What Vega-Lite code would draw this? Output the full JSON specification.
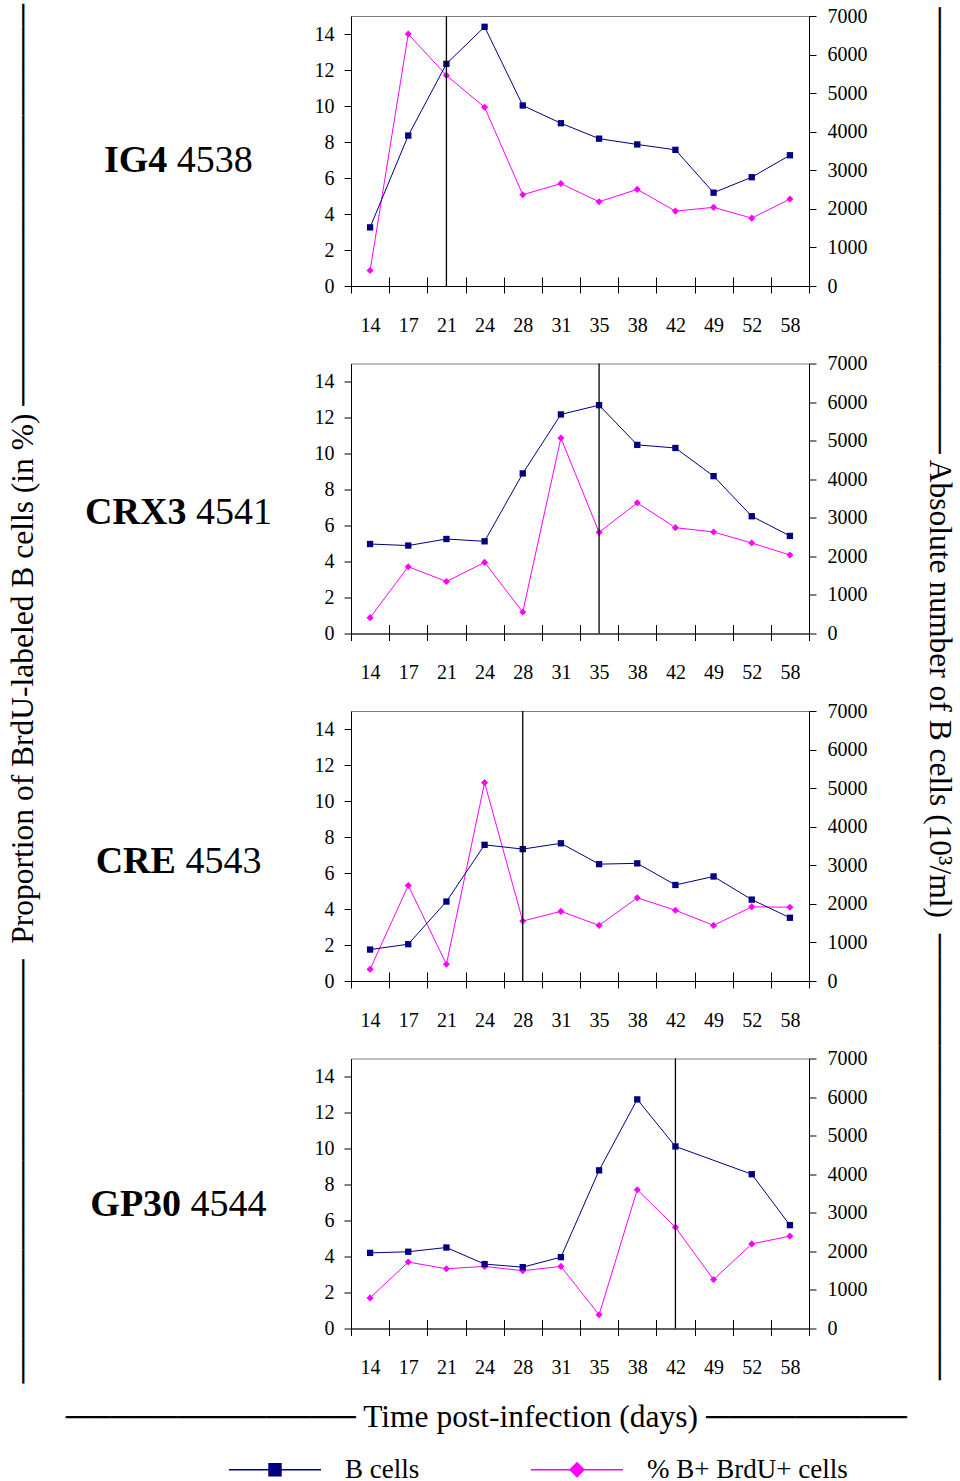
{
  "$schema": "https://vega.github.io/schema/vega-lite/v6.json",
  "padding": {"left": 7, "top": 3, "right": 0, "bottom": 0},
  "datasets": {
    "obs": [
      {"animal":"IG4","day":"14","series":"% B+ BrdU+ cells","value":0.86},
      {"animal":"IG4","day":"17","series":"% B+ BrdU+ cells","value":14.0},
      {"animal":"IG4","day":"21","series":"% B+ BrdU+ cells","value":11.7},
      {"animal":"IG4","day":"24","series":"% B+ BrdU+ cells","value":9.93},
      {"animal":"IG4","day":"28","series":"% B+ BrdU+ cells","value":5.07},
      {"animal":"IG4","day":"31","series":"% B+ BrdU+ cells","value":5.69},
      {"animal":"IG4","day":"35","series":"% B+ BrdU+ cells","value":4.68},
      {"animal":"IG4","day":"38","series":"% B+ BrdU+ cells","value":5.37},
      {"animal":"IG4","day":"42","series":"% B+ BrdU+ cells","value":4.16},
      {"animal":"IG4","day":"49","series":"% B+ BrdU+ cells","value":4.37},
      {"animal":"IG4","day":"52","series":"% B+ BrdU+ cells","value":3.77},
      {"animal":"IG4","day":"58","series":"% B+ BrdU+ cells","value":4.83},
      {"animal":"IG4","day":"14","series":"B cells","value":1520},
      {"animal":"IG4","day":"17","series":"B cells","value":3900},
      {"animal":"IG4","day":"21","series":"B cells","value":5760},
      {"animal":"IG4","day":"24","series":"B cells","value":6720},
      {"animal":"IG4","day":"28","series":"B cells","value":4680},
      {"animal":"IG4","day":"31","series":"B cells","value":4220},
      {"animal":"IG4","day":"35","series":"B cells","value":3820},
      {"animal":"IG4","day":"38","series":"B cells","value":3670},
      {"animal":"IG4","day":"42","series":"B cells","value":3530},
      {"animal":"IG4","day":"49","series":"B cells","value":2420},
      {"animal":"IG4","day":"52","series":"B cells","value":2820},
      {"animal":"IG4","day":"58","series":"B cells","value":3390},
      {"animal":"CRX3","day":"14","series":"% B+ BrdU+ cells","value":0.88},
      {"animal":"CRX3","day":"17","series":"% B+ BrdU+ cells","value":3.71},
      {"animal":"CRX3","day":"21","series":"% B+ BrdU+ cells","value":2.89},
      {"animal":"CRX3","day":"24","series":"% B+ BrdU+ cells","value":3.95},
      {"animal":"CRX3","day":"28","series":"% B+ BrdU+ cells","value":1.19},
      {"animal":"CRX3","day":"31","series":"% B+ BrdU+ cells","value":10.86},
      {"animal":"CRX3","day":"35","series":"% B+ BrdU+ cells","value":5.62},
      {"animal":"CRX3","day":"38","series":"% B+ BrdU+ cells","value":7.26},
      {"animal":"CRX3","day":"42","series":"% B+ BrdU+ cells","value":5.88},
      {"animal":"CRX3","day":"49","series":"% B+ BrdU+ cells","value":5.64},
      {"animal":"CRX3","day":"52","series":"% B+ BrdU+ cells","value":5.03},
      {"animal":"CRX3","day":"58","series":"% B+ BrdU+ cells","value":4.36},
      {"animal":"CRX3","day":"14","series":"B cells","value":2320},
      {"animal":"CRX3","day":"17","series":"B cells","value":2280},
      {"animal":"CRX3","day":"21","series":"B cells","value":2450},
      {"animal":"CRX3","day":"24","series":"B cells","value":2390},
      {"animal":"CRX3","day":"28","series":"B cells","value":4150},
      {"animal":"CRX3","day":"31","series":"B cells","value":5680},
      {"animal":"CRX3","day":"35","series":"B cells","value":5920},
      {"animal":"CRX3","day":"38","series":"B cells","value":4890},
      {"animal":"CRX3","day":"42","series":"B cells","value":4810},
      {"animal":"CRX3","day":"49","series":"B cells","value":4080},
      {"animal":"CRX3","day":"52","series":"B cells","value":3040},
      {"animal":"CRX3","day":"58","series":"B cells","value":2530},
      {"animal":"CRE","day":"14","series":"% B+ BrdU+ cells","value":0.65},
      {"animal":"CRE","day":"17","series":"% B+ BrdU+ cells","value":5.31},
      {"animal":"CRE","day":"21","series":"% B+ BrdU+ cells","value":0.93},
      {"animal":"CRE","day":"24","series":"% B+ BrdU+ cells","value":11.02},
      {"animal":"CRE","day":"28","series":"% B+ BrdU+ cells","value":3.33},
      {"animal":"CRE","day":"31","series":"% B+ BrdU+ cells","value":3.87},
      {"animal":"CRE","day":"35","series":"% B+ BrdU+ cells","value":3.09},
      {"animal":"CRE","day":"38","series":"% B+ BrdU+ cells","value":4.62},
      {"animal":"CRE","day":"42","series":"% B+ BrdU+ cells","value":3.93},
      {"animal":"CRE","day":"49","series":"% B+ BrdU+ cells","value":3.09},
      {"animal":"CRE","day":"52","series":"% B+ BrdU+ cells","value":4.12},
      {"animal":"CRE","day":"58","series":"% B+ BrdU+ cells","value":4.10},
      {"animal":"CRE","day":"14","series":"B cells","value":815},
      {"animal":"CRE","day":"17","series":"B cells","value":954},
      {"animal":"CRE","day":"21","series":"B cells","value":2060},
      {"animal":"CRE","day":"24","series":"B cells","value":3530},
      {"animal":"CRE","day":"28","series":"B cells","value":3420},
      {"animal":"CRE","day":"31","series":"B cells","value":3570},
      {"animal":"CRE","day":"35","series":"B cells","value":3030},
      {"animal":"CRE","day":"38","series":"B cells","value":3050},
      {"animal":"CRE","day":"42","series":"B cells","value":2490},
      {"animal":"CRE","day":"49","series":"B cells","value":2710},
      {"animal":"CRE","day":"52","series":"B cells","value":2110},
      {"animal":"CRE","day":"58","series":"B cells","value":1640},
      {"animal":"GP30","day":"14","series":"% B+ BrdU+ cells","value":1.70},
      {"animal":"GP30","day":"17","series":"% B+ BrdU+ cells","value":3.69},
      {"animal":"GP30","day":"21","series":"% B+ BrdU+ cells","value":3.32},
      {"animal":"GP30","day":"24","series":"% B+ BrdU+ cells","value":3.45},
      {"animal":"GP30","day":"28","series":"% B+ BrdU+ cells","value":3.21},
      {"animal":"GP30","day":"31","series":"% B+ BrdU+ cells","value":3.45},
      {"animal":"GP30","day":"35","series":"% B+ BrdU+ cells","value":0.76},
      {"animal":"GP30","day":"38","series":"% B+ BrdU+ cells","value":7.71},
      {"animal":"GP30","day":"42","series":"% B+ BrdU+ cells","value":5.62},
      {"animal":"GP30","day":"49","series":"% B+ BrdU+ cells","value":2.72},
      {"animal":"GP30","day":"52","series":"% B+ BrdU+ cells","value":4.70},
      {"animal":"GP30","day":"58","series":"% B+ BrdU+ cells","value":5.13},
      {"animal":"GP30","day":"14","series":"B cells","value":1960},
      {"animal":"GP30","day":"17","series":"B cells","value":1990},
      {"animal":"GP30","day":"21","series":"B cells","value":2100},
      {"animal":"GP30","day":"24","series":"B cells","value":1670},
      {"animal":"GP30","day":"28","series":"B cells","value":1590},
      {"animal":"GP30","day":"31","series":"B cells","value":1850},
      {"animal":"GP30","day":"35","series":"B cells","value":4100},
      {"animal":"GP30","day":"38","series":"B cells","value":5940},
      {"animal":"GP30","day":"42","series":"B cells","value":4720},
      {"animal":"GP30","day":"52","series":"B cells","value":4000},
      {"animal":"GP30","day":"58","series":"B cells","value":2680}
    ],
    "vlines": [
      {"animal":"IG4","day":"21"},
      {"animal":"CRX3","day":"35"},
      {"animal":"CRE","day":"28"},
      {"animal":"GP30","day":"42"}
    ]
  },
  "vconcat": [
    {
      "title": {"text": "───────────── Time post-infection (days) ─────────", "orient": "bottom", "offset": 18, "anchor": "middle", "dx": 5},
      "vconcat": [
        {
          "title": {"text": "──────────────────── Absolute number of B cells (10³/ml)\u00a0 ────────────────────", "orient": "right", "offset": 56, "anchor": "middle"},
          "hconcat": [
            {
              "title": {"text": "───────────────────\u00a0 Proportion of BrdU-labeled B cells (in %) ──────────────────", "orient": "left", "offset": 45, "anchor": "middle", "dx": -2},
              "spacing": 16.5,
              "vconcat": [
                {
                  "width": 458, "height": 270,
                  "data": {"name": "obs"},
                  "layer": [
                    {
                      "transform": [{"filter": "datum.animal === 'IG4' && datum.series === '% B+ BrdU+ cells'"}],
                      "encoding": {
                        "x": {"field": "day", "type": "ordinal", "sort": null, "scale": {"type": "band", "paddingInner": 0, "paddingOuter": 0, "domain": ["14","17","21","24","28","31","35","38","42","49","52","58"]}, "axis": {"orient": "bottom", "tickBand": "extent", "tickSize": 7, "labelPadding": 22, "labelAngle": 0, "title": null}},
                        "y": {"field": "value", "type": "quantitative", "scale": {"domain": [0, 15], "nice": false}, "axis": {"orient": "left", "values": [0,2,4,6,8,10,12,14], "labelPadding": 10, "title": "IG4", "titleAngle": 0, "titleAlign": "right", "titleBaseline": "alphabetic", "titleX": -184.25, "titleY": 155, "titleFontWeight": "bold"}},
                        "color": {"field": "series", "type": "nominal", "scale": {"domain": ["B cells", "% B+ BrdU+ cells"], "range": ["#000080", "#ff00ff"]},
                          "legend": {"orient": "none", "legendX": -89.5, "legendY": 1440, "direction": "horizontal", "title": null, "symbolSize": 529, "labelFont": "Liberation Serif", "labelFontSize": 27, "labelColor": "black", "labelLimit": 0, "labelOffset": 56.5, "columnPadding": 108, "padding": 0,
                            "encode": {"symbols": {"update": {
                              "shape": {"signal": "datum.value === 'B cells' ? 'M-4,0H4M-0.52,-0.52H0.52V0.52H-0.52Z' : 'M-4,0H4M0,-0.6L0.6,0L0,0.6L-0.6,0Z'"},
                              "fill": {"signal": "datum.value === 'B cells' ? '#336699' : '#ff66ff'"},
                              "stroke": {"signal": "datum.value === 'B cells' ? '#336699' : '#ff66ff'"},
                              "strokeWidth": {"value": 1.5}, "opacity": {"value": 1}, "fillOpacity": {"value": 1}, "strokeOpacity": {"value": 1}}}}}}
                      },
                      "layer": [
                        {"mark": {"type": "line", "strokeWidth": 1}},
                        {"mark": {"type": "point", "shape": "diamond", "filled": true, "size": 50, "opacity": 1}}
                      ]
                    },
                    {
                      "transform": [{"filter": "datum.animal === 'IG4' && datum.series === 'B cells'"}],
                      "encoding": {
                        "x": {"field": "day", "type": "ordinal", "sort": null, "scale": {"type": "band", "paddingInner": 0, "paddingOuter": 0}, "axis": {"orient": "top", "offset": -270, "tickBand": "extent", "tickSize": 9, "labels": false, "domain": false, "title": null}},
                        "y": {"field": "value", "type": "quantitative", "scale": {"domain": [0, 7000], "nice": false}, "axis": {"orient": "right", "values": [0,1000,2000,3000,4000,5000,6000,7000], "format": "d", "labelPadding": 11, "title": "4538", "titleAngle": 0, "titleAlign": "left", "titleBaseline": "alphabetic", "titleX": -632.75, "titleY": 155, "titleFontWeight": "normal"}},
                        "color": {"field": "series", "type": "nominal"}
                      },
                      "layer": [
                        {"mark": {"type": "line", "strokeWidth": 1}},
                        {"mark": {"type": "point", "shape": "square", "filled": true, "size": 40, "opacity": 1}}
                      ]
                    },
                    {
                      "data": {"name": "vlines"},
                      "transform": [{"filter": "datum.animal === 'IG4'"}],
                      "mark": {"type": "rule", "color": "black", "strokeWidth": 1.3},
                      "encoding": {"x": {"field": "day", "type": "ordinal", "sort": null, "axis": null}}
                    }
                  ],
                  "resolve": {"scale": {"y": "independent"}, "axis": {"x": "independent"}}
                },
                {
                  "width": 458, "height": 270,
                  "data": {"name": "obs"},
                  "layer": [
                    {
                      "transform": [{"filter": "datum.animal === 'CRX3' && datum.series === '% B+ BrdU+ cells'"}],
                      "encoding": {
                        "x": {"field": "day", "type": "ordinal", "sort": null, "scale": {"type": "band", "paddingInner": 0, "paddingOuter": 0, "domain": ["14","17","21","24","28","31","35","38","42","49","52","58"]}, "axis": {"orient": "bottom", "tickBand": "extent", "tickSize": 7, "labelPadding": 22, "labelAngle": 0, "title": null}},
                        "y": {"field": "value", "type": "quantitative", "scale": {"domain": [0, 15], "nice": false}, "axis": {"orient": "left", "values": [0,2,4,6,8,10,12,14], "labelPadding": 10, "title": "CRX3", "titleAngle": 0, "titleAlign": "right", "titleBaseline": "alphabetic", "titleX": -165.1, "titleY": 160, "titleFontWeight": "bold"}},
                        "color": {"field": "series", "type": "nominal"}
                      },
                      "layer": [
                        {"mark": {"type": "line", "strokeWidth": 1}},
                        {"mark": {"type": "point", "shape": "diamond", "filled": true, "size": 50, "opacity": 1}}
                      ]
                    },
                    {
                      "transform": [{"filter": "datum.animal === 'CRX3' && datum.series === 'B cells'"}],
                      "encoding": {
                        "x": {"field": "day", "type": "ordinal", "sort": null, "scale": {"type": "band", "paddingInner": 0, "paddingOuter": 0}, "axis": {"orient": "top", "offset": -270, "tickBand": "extent", "tickSize": 9, "labels": false, "domain": false, "title": null}},
                        "y": {"field": "value", "type": "quantitative", "scale": {"domain": [0, 7000], "nice": false}, "axis": {"orient": "right", "values": [0,1000,2000,3000,4000,5000,6000,7000], "format": "d", "labelPadding": 11, "title": "4541", "titleAngle": 0, "titleAlign": "left", "titleBaseline": "alphabetic", "titleX": -613.6, "titleY": 160, "titleFontWeight": "normal"}},
                        "color": {"field": "series", "type": "nominal"}
                      },
                      "layer": [
                        {"mark": {"type": "line", "strokeWidth": 1}},
                        {"mark": {"type": "point", "shape": "square", "filled": true, "size": 40, "opacity": 1}}
                      ]
                    },
                    {
                      "data": {"name": "vlines"},
                      "transform": [{"filter": "datum.animal === 'CRX3'"}],
                      "mark": {"type": "rule", "color": "black", "strokeWidth": 1.3},
                      "encoding": {"x": {"field": "day", "type": "ordinal", "sort": null, "axis": null}}
                    }
                  ],
                  "resolve": {"scale": {"y": "independent"}, "axis": {"x": "independent"}}
                },
                {
                  "width": 458, "height": 270,
                  "data": {"name": "obs"},
                  "layer": [
                    {
                      "transform": [{"filter": "datum.animal === 'CRE' && datum.series === '% B+ BrdU+ cells'"}],
                      "encoding": {
                        "x": {"field": "day", "type": "ordinal", "sort": null, "scale": {"type": "band", "paddingInner": 0, "paddingOuter": 0, "domain": ["14","17","21","24","28","31","35","38","42","49","52","58"]}, "axis": {"orient": "bottom", "tickBand": "extent", "tickSize": 7, "labelPadding": 22, "labelAngle": 0, "title": null}},
                        "y": {"field": "value", "type": "quantitative", "scale": {"domain": [0, 15], "nice": false}, "axis": {"orient": "left", "values": [0,2,4,6,8,10,12,14], "labelPadding": 10, "title": "CRE", "titleAngle": 0, "titleAlign": "right", "titleBaseline": "alphabetic", "titleX": -175.6, "titleY": 161, "titleFontWeight": "bold"}},
                        "color": {"field": "series", "type": "nominal"}
                      },
                      "layer": [
                        {"mark": {"type": "line", "strokeWidth": 1}},
                        {"mark": {"type": "point", "shape": "diamond", "filled": true, "size": 50, "opacity": 1}}
                      ]
                    },
                    {
                      "transform": [{"filter": "datum.animal === 'CRE' && datum.series === 'B cells'"}],
                      "encoding": {
                        "x": {"field": "day", "type": "ordinal", "sort": null, "scale": {"type": "band", "paddingInner": 0, "paddingOuter": 0}, "axis": {"orient": "top", "offset": -270, "tickBand": "extent", "tickSize": 9, "labels": false, "domain": false, "title": null}},
                        "y": {"field": "value", "type": "quantitative", "scale": {"domain": [0, 7000], "nice": false}, "axis": {"orient": "right", "values": [0,1000,2000,3000,4000,5000,6000,7000], "format": "d", "labelPadding": 11, "title": "4543", "titleAngle": 0, "titleAlign": "left", "titleBaseline": "alphabetic", "titleX": -624.1, "titleY": 161, "titleFontWeight": "normal"}},
                        "color": {"field": "series", "type": "nominal"}
                      },
                      "layer": [
                        {"mark": {"type": "line", "strokeWidth": 1}},
                        {"mark": {"type": "point", "shape": "square", "filled": true, "size": 40, "opacity": 1}}
                      ]
                    },
                    {
                      "data": {"name": "vlines"},
                      "transform": [{"filter": "datum.animal === 'CRE'"}],
                      "mark": {"type": "rule", "color": "black", "strokeWidth": 1.3},
                      "encoding": {"x": {"field": "day", "type": "ordinal", "sort": null, "axis": null}}
                    }
                  ],
                  "resolve": {"scale": {"y": "independent"}, "axis": {"x": "independent"}}
                },
                {
                  "width": 458, "height": 270,
                  "data": {"name": "obs"},
                  "layer": [
                    {
                      "transform": [{"filter": "datum.animal === 'GP30' && datum.series === '% B+ BrdU+ cells'"}],
                      "encoding": {
                        "x": {"field": "day", "type": "ordinal", "sort": null, "scale": {"type": "band", "paddingInner": 0, "paddingOuter": 0, "domain": ["14","17","21","24","28","31","35","38","42","49","52","58"]}, "axis": {"orient": "bottom", "tickBand": "extent", "tickSize": 7, "labelPadding": 22, "labelAngle": 0, "title": null}},
                        "y": {"field": "value", "type": "quantitative", "scale": {"domain": [0, 15], "nice": false}, "axis": {"orient": "left", "values": [0,2,4,6,8,10,12,14], "labelPadding": 10, "title": "GP30", "titleAngle": 0, "titleAlign": "right", "titleBaseline": "alphabetic", "titleX": -170.4, "titleY": 157, "titleFontWeight": "bold"}},
                        "color": {"field": "series", "type": "nominal"}
                      },
                      "layer": [
                        {"mark": {"type": "line", "strokeWidth": 1}},
                        {"mark": {"type": "point", "shape": "diamond", "filled": true, "size": 50, "opacity": 1}}
                      ]
                    },
                    {
                      "transform": [{"filter": "datum.animal === 'GP30' && datum.series === 'B cells'"}],
                      "encoding": {
                        "x": {"field": "day", "type": "ordinal", "sort": null, "scale": {"type": "band", "paddingInner": 0, "paddingOuter": 0}, "axis": {"orient": "top", "offset": -270, "tickBand": "extent", "tickSize": 9, "labels": false, "domain": false, "title": null}},
                        "y": {"field": "value", "type": "quantitative", "scale": {"domain": [0, 7000], "nice": false}, "axis": {"orient": "right", "values": [0,1000,2000,3000,4000,5000,6000,7000], "format": "d", "labelPadding": 11, "title": "4544", "titleAngle": 0, "titleAlign": "left", "titleBaseline": "alphabetic", "titleX": -618.9, "titleY": 157, "titleFontWeight": "normal"}},
                        "color": {"field": "series", "type": "nominal"}
                      },
                      "layer": [
                        {"mark": {"type": "line", "strokeWidth": 1}},
                        {"mark": {"type": "point", "shape": "square", "filled": true, "size": 40, "opacity": 1}}
                      ]
                    },
                    {
                      "data": {"name": "vlines"},
                      "transform": [{"filter": "datum.animal === 'GP30'"}],
                      "mark": {"type": "rule", "color": "black", "strokeWidth": 1.3},
                      "encoding": {"x": {"field": "day", "type": "ordinal", "sort": null, "axis": null}}
                    }
                  ],
                  "resolve": {"scale": {"y": "independent"}, "axis": {"x": "independent"}}
                }
              ]
            }
          ]
        }
      ]
    }
  ],
  "config": {
    "font": "Liberation Serif",
    "view": {"stroke": "#808080", "strokeWidth": 1},
    "axis": {"labelFont": "Liberation Serif", "labelFontSize": 20, "labelColor": "black", "domainColor": "black", "tickColor": "black", "tickSize": 7, "grid": false, "titleFont": "Liberation Serif", "titleColor": "black", "titleFontSize": 38},
    "title": {"font": "Liberation Serif", "fontSize": 31.5, "fontWeight": "normal", "color": "black", "anchor": "middle"}
  }
}
